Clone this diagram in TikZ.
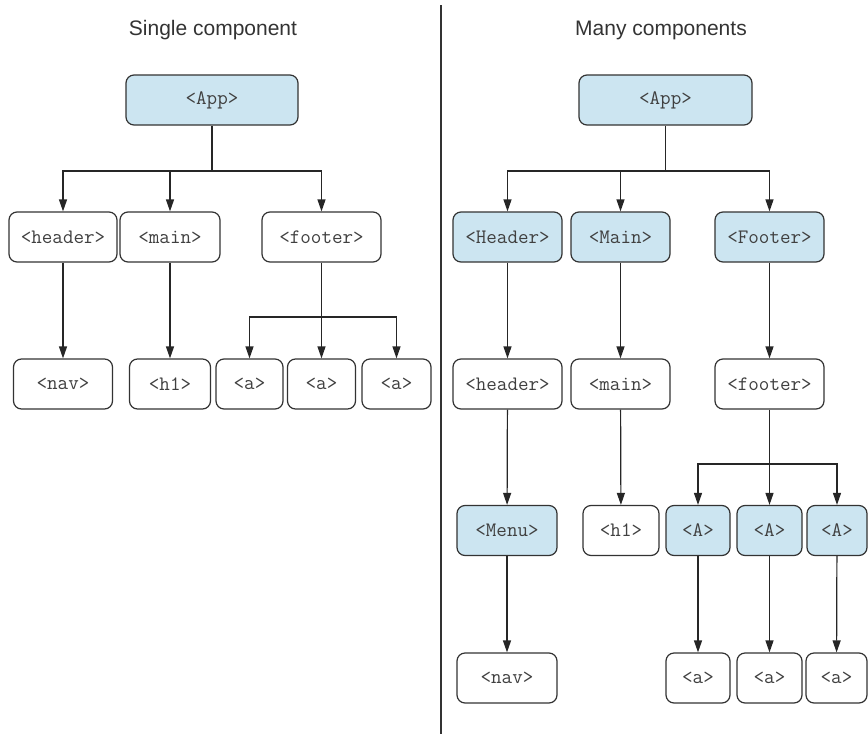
\documentclass[tikz,border=0pt]{standalone}
\usepackage{fontspec}
\setmainfont{Liberation Sans}
\usetikzlibrary{arrows.meta, positioning}

\definecolor{compblue}{RGB}{204,229,241}
\definecolor{boxline}{RGB}{51,51,51}
\definecolor{tagtext}{RGB}{64,64,64}

\tikzset{
	elem/.style={draw=boxline, line width=1.2pt, rounded corners=8pt, fill=white, minimum height=50pt, inner sep=0pt, text=tagtext, font=\ttfamily\fontsize{20.5}{22}\selectfont},
	comp/.style={elem, fill=compblue},
	title/.style={font=\fontsize{21}{24}\selectfont, text=black!80},
	trunk/.style={draw=black!85, line width=1.2pt},
	link/.style={trunk, -{Triangle[length=12pt, width=8pt]}}
}

\begin{document}
\begin{tikzpicture}[x=1pt, y=-1pt]
		\useasboundingbox (0,0) rectangle (868,734);

		% Divider
		\draw[line width=1.2pt, black!80] (441,5) -- (441,734);

		% Single component
		\begin{scope}
			\node (stitle) at (213,30) [title] {Single component};
			\node (sapp) at (212,100) [comp, minimum width=172pt] {<App>};

			\node (sheader) at (63,237) [elem, minimum width=108pt] {<header>};
			\node (smain) at (170,237) [elem, minimum width=100pt] {<main>};
			\node (sfooter) at (321.5,237) [elem, minimum width=119pt] {<footer>};

			\node (snav) at (63,384) [elem, minimum width=99pt] {<nav>};
			\node (sh) at (170,384) [elem, minimum width=81pt] {<h1>};
			\node (sa1) at (249.5,384) [elem, minimum width=67pt] {<a>};
			\node (sa2) at (321.5,384) [elem, minimum width=68pt] {<a>};
			\node (sa3) at (396.5,384) [elem, minimum width=69pt] {<a>};

			\coordinate (sfork) at (212,171);
			\coordinate (sfootfork) at (321.5,317);

			\draw[trunk] (sapp) -- (sfork);
			\draw[link] (sfork) -| (sheader.north);
			\draw[link] (sfork) -| (smain.north);
			\draw[link] (sfork) -| (sfooter.north);

			\draw[link] (sheader) -- (snav);
			\draw[link] (smain) -- (sh);
			\draw[link] (sfooter) -- (sa2);
			\draw[link] (sfootfork) -| (sa1.north);
			\draw[link] (sfootfork) -| (sa3.north);
		\end{scope}

		% Many components
		\begin{scope}
			\node (mtitle) at (661,30) [title] {Many components};
			\node (mapp) at (665.5,100) [comp, minimum width=173pt] {<App>};

			\node (mHeader) at (507.5,237) [comp, minimum width=109pt] {<Header>};
			\node (mMain) at (620.5,237) [comp, minimum width=99pt] {<Main>};
			\node (mFooter) at (769.5,237) [comp, minimum width=109pt] {<Footer>};

			\node (mheader) at (507.5,384) [elem, minimum width=109pt] {<header>};
			\node (mmain) at (620.5,384) [elem, minimum width=99pt] {<main>};
			\node (mfooter) at (769.5,384) [elem, minimum width=109pt] {<footer>};

			\node (mMenu) at (507,530.5) [comp, minimum width=100pt] {<Menu>};
			\node (mh) at (621,530.5) [elem, minimum width=76pt] {<h1>};
			\node (mA1) at (698,530.5) [comp, minimum width=64pt] {<A>};
			\node (mA2) at (769.5,530.5) [comp, minimum width=65pt] {<A>};
			\node (mA3) at (837,530.5) [comp, minimum width=60pt] {<A>};

			\node (mnav) at (507,678) [elem, minimum width=100pt] {<nav>};
			\node (ma1) at (698,678) [elem, minimum width=64pt] {<a>};
			\node (ma2) at (769.5,678) [elem, minimum width=65pt] {<a>};
			\node (ma3) at (836.5,678) [elem, minimum width=61pt] {<a>};

			\coordinate (mfork) at (665.5,171);
			\coordinate (mfootfork) at (769.5,464);

			\draw[trunk] (mapp) -- (mfork);
			\draw[link] (mfork) -| (mHeader.north);
			\draw[link] (mfork) -| (mMain.north);
			\draw[link] (mfork) -| (mFooter.north);

			\draw[link] (mHeader) -- (mheader);
			\draw[link] (mMain) -- (mmain);
			\draw[link] (mFooter) -- (mfooter);

			\draw[link] (mheader) -- (mMenu);
			\draw[link] (mmain) -- (mh);
			\draw[link] (mfooter) -- (mA2);
			\draw[link] (mfootfork) -| (mA1.north);
			\draw[link] (mfootfork) -| (mA3.north);

			\draw[link] (mMenu) -- (mnav);
			\draw[link] (mA1) -- (ma1);
			\draw[link] (mA2) -- (ma2);
			\draw[link] (mA3) -- (ma3);
		\end{scope}

	\end{tikzpicture}
\end{document}
